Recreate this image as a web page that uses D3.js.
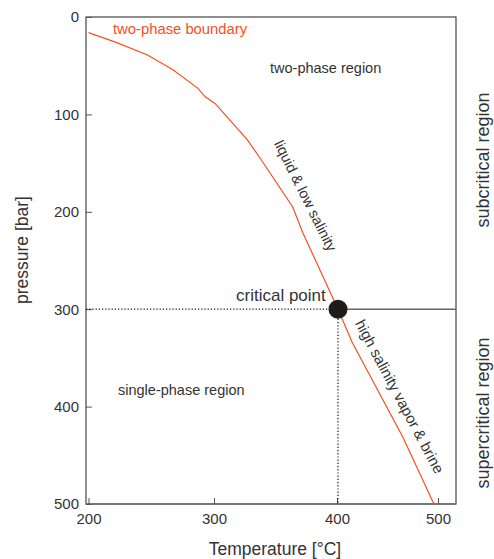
<!DOCTYPE html>
<html lang="en">
<head>
<meta charset="utf-8">
<title>two-phase boundary</title>
<script src="https://d3js.org/d3.v7.min.js"></script>
<style>
  body { margin: 0; background: #fff; }
  svg { font-family: "Liberation Sans", Arial, sans-serif; }
  .axis text { fill: #333; font-size: 15px; }
  .axis line { stroke: #555; }
  .axis path { display: none; }
  .lbl { fill: #333; }
</style>
</head>
<body>
<div id="chart"></div>
<script>
// two-phase boundary curve, temperature [°C] vs pressure [bar]
var boundaryT = [200, 222, 247, 267, 287, 293, 301, 327, 337, 364, 372, 401, 415, 465, 496];
var boundaryP = [16, 26, 39, 54, 73, 82, 89, 126, 144, 195, 221, 300, 334, 431, 500];

var criticalT = 401, criticalP = 300;

var xTicks = [200, 300, 400, 500];
var yTicks = [0, 100, 200, 300, 400, 500];

var W = 494, H = 559;

var svg = d3.select("#chart").append("svg")
    .attr("width", W)
    .attr("height", H);

// the original axis is not quite even, so use a piecewise scale
var x = d3.scaleLinear()
    .domain([198, 300, 400, 500, 518])
    .range([86, 214, 337, 438, 456]);

var y = d3.scaleLinear()
    .domain([0, 500])
    .range([17, 504]);

// frame
svg.append("rect")
    .attr("x", x(198)).attr("y", y(0))
    .attr("width", x(518) - x(198)).attr("height", y(500) - y(0))
    .attr("fill", "none")
    .attr("stroke", "#444")
    .attr("stroke-width", 1.2);

svg.append("line")
    .attr("x1", x(198)).attr("x2", x(518))
    .attr("y1", y(500)).attr("y2", y(500))
    .attr("stroke", "#777").attr("stroke-width", 2);

// axes (ticks point inward)
svg.append("g")
    .attr("class", "axis")
    .attr("transform", "translate(0," + y(500) + ")")
    .call(d3.axisBottom(x).tickValues(xTicks).tickSizeInner(-6).tickSizeOuter(0).tickPadding(9));

svg.append("g")
    .attr("class", "axis")
    .attr("transform", "translate(" + x(198) + ",0)")
    .call(d3.axisLeft(y).tickValues(yTicks).tickSizeInner(-6).tickSizeOuter(0).tickPadding(7));

// critical lines
svg.append("line")
    .attr("x1", x(198)).attr("x2", x(criticalT))
    .attr("y1", y(criticalP)).attr("y2", y(criticalP))
    .attr("stroke", "#111").attr("stroke-width", 1.2)
    .attr("stroke-dasharray", "1.2,2");

svg.append("line")
    .attr("x1", x(criticalT)).attr("x2", x(criticalT))
    .attr("y1", y(criticalP)).attr("y2", y(500))
    .attr("stroke", "#111").attr("stroke-width", 1.2)
    .attr("stroke-dasharray", "1.2,2");

svg.append("line")
    .attr("x1", x(criticalT)).attr("x2", x(518))
    .attr("y1", y(criticalP)).attr("y2", y(criticalP))
    .attr("stroke", "#666").attr("stroke-width", 1.5);

// boundary curve
var pts = boundaryT.map(function(t, i) { return [t, boundaryP[i]]; });
svg.append("path")
    .datum(pts)
    .attr("fill", "none")
    .attr("stroke", "#f4511e")
    .attr("stroke-width", 1.2)
    .attr("d", d3.line()
      .x(function(d) { return x(d[0]); })
      .y(function(d) { return y(d[1]); }));

svg.append("circle")
    .attr("cx", x(criticalT)).attr("cy", y(criticalP))
    .attr("r", 9.5)
    .attr("fill", "#1e1b19");

// labels
function label(txt, px, py, opts) {
  opts = opts || {};
  var t = svg.append("text")
      .attr("class", "lbl")
      .attr("font-size", (opts.size || 14.5) + "px")
      .attr("text-anchor", opts.anchor || "start")
      .attr("transform", "translate(" + px + "," + py + ")" + (opts.rot ? " rotate(" + opts.rot + ")" : ""))
      .text(txt);
  if (opts.fill) t.style("fill", opts.fill);
  return t;
}

label("two-phase boundary", 113, 34, {fill: "#f4511e", size: 14.8});
label("two-phase region", 270, 73);
label("liquid & low salinity", 301, 198, {anchor: "middle", rot: 63.5});
label("critical point", 236, 301, {size: 17});
label("high salinity vapor & brine", 395, 399, {anchor: "middle", rot: 62, size: 15});
label("single-phase region", 118, 395);
label("pressure [bar]", 28, 250, {size: 17.5, anchor: "middle", rot: -90});
label("Temperature [°C]", 275, 555, {size: 17.5, anchor: "middle"});
label("subcritical region", 489, 160, {size: 18, anchor: "middle", rot: -90});
label("supercritical region", 489, 413, {size: 18, anchor: "middle", rot: -90});
</script>
</body>
</html>
